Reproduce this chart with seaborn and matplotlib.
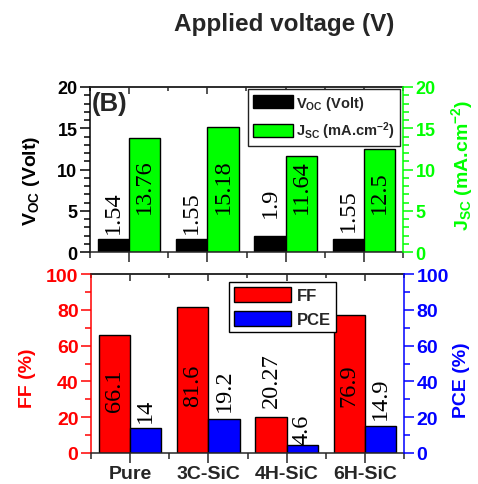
import matplotlib
matplotlib.use("Agg")
import matplotlib.pyplot as plt
import numpy as np
import pandas as pd
import seaborn as sns
from matplotlib.ticker import MultipleLocator, FixedLocator

# ---- data ----
samples = ["Pure", "3C-SiC", "4H-SiC", "6H-SiC"]
voc = [1.54, 1.55, 1.9, 1.55]          # V_OC (Volt)
jsc = [13.76, 15.18, 11.64, 12.5]      # J_SC (mA.cm^-2)
ff = [66.1, 81.6, 20.27, 76.9]         # FF (%)
pce = [14, 19.2, 4.6, 14.9]            # PCE (%)

# ---- where each rotated value label starts (data units) ----
voc_label_y = [2.3, 2.3, 4.2, 2.55]
jsc_label_y = [4.7, 4.7, 4.7, 4.7]
ff_label_y = [23.5, 26.3, 25.7, 26.3]
pce_label_y = [17.3, 23.5, 5.0, 19.0]

GREEN = "#00FF00"
RED = "#FF0000"
BLUE = "#0000FF"

sns.set_style("ticks")
plt.rcParams["font.family"] = ["Liberation Sans", "DejaVu Sans"]
plt.rcParams["font.weight"] = "bold"
plt.rcParams["axes.linewidth"] = 1.1
plt.rcParams["mathtext.default"] = "regular"

voc_lab = r"V$_{\mathregular{OC}}$ (Volt)"
jsc_lab = r"J$_{\mathregular{SC}}$ (mA.cm$^{\mathregular{-2}}$)"

top_df = pd.DataFrame({
    "sample": samples * 2,
    "value": voc + jsc,
    "quantity": [voc_lab] * len(samples) + [jsc_lab] * len(samples),
})
bot_df = pd.DataFrame({
    "sample": samples * 2,
    "value": ff + pce,
    "quantity": ["FF"] * len(samples) + ["PCE"] * len(samples),
})

W, H = 478, 485
fig = plt.figure(figsize=(W / 100, H / 100), dpi=100)
ax_top = fig.add_axes([90 / W, 1 - 253 / H, 313 / W, 165 / H])
ax_bot = fig.add_axes([91 / W, 1 - 454 / H, 313 / W, 179 / H])


def style_panel(ax, left_color, right_color, ymax, major, minor,
                tick_size, show_xlabels):
    ax.set_xlim(-0.5, 3.5)
    ax.set_ylim(0, ymax)
    ax.yaxis.set_major_locator(MultipleLocator(major))
    ax.yaxis.set_minor_locator(MultipleLocator(minor))
    ax.xaxis.set_major_locator(FixedLocator(range(len(samples))))
    ax.xaxis.set_minor_locator(FixedLocator([-0.5, 0.5, 1.5, 2.5, 3.5]))
    ax.set_xlabel("")
    ax.set_ylabel("")
    ax.tick_params(axis="x", which="major", direction="out", length=7,
                   width=1.1, bottom=True, top=False,
                   labelbottom=show_xlabels, labelsize=14, pad=1.5)
    ax.tick_params(axis="x", which="minor", direction="out", length=4,
                   width=1.1, bottom=True, top=False)
    ax.tick_params(axis="y", which="major", direction="out", length=7,
                   width=1.1, colors=left_color, labelsize=tick_size, pad=2)
    ax.tick_params(axis="y", which="minor", direction="out", length=4,
                   width=1.1, colors=left_color)
    ax.spines["left"].set_color(left_color)
    ax.spines["right"].set_visible(False)

    # inward ticks along the top edge
    sec = ax.secondary_xaxis("top")
    sec.xaxis.set_major_locator(FixedLocator(range(len(samples))))
    sec.xaxis.set_minor_locator(FixedLocator([-0.5, 0.5, 1.5, 2.5, 3.5]))
    sec.tick_params(which="major", direction="in", length=5, width=1.1,
                    labeltop=False)
    sec.tick_params(which="minor", direction="in", length=3, width=1.1)

    # right-hand axis with the same scale
    tw = ax.twinx()
    tw.set_ylim(0, ymax)
    tw.yaxis.set_major_locator(MultipleLocator(major))
    tw.yaxis.set_minor_locator(MultipleLocator(minor))
    tw.tick_params(axis="y", which="major", direction="out", length=7,
                   width=1.1, colors=right_color, labelsize=tick_size, pad=2)
    tw.tick_params(axis="y", which="minor", direction="out", length=4,
                   width=1.1, colors=right_color)
    tw.spines["right"].set_color(right_color)
    tw.spines["left"].set_visible(False)
    tw.spines["top"].set_visible(False)
    tw.spines["bottom"].set_visible(False)
    return tw


def add_value_labels(ax, container, values, label_y):
    for bar, v, y in zip(container, values, label_y):
        ax.text(bar.get_x() + bar.get_width() / 2, y, f"{v:g}",
                rotation=90, ha="center", va="bottom",
                fontsize=17.5, fontweight="normal",
                family=["Liberation Serif", "DejaVu Serif"], color="black")


# ---- top panel: V_OC and J_SC ----
sns.barplot(data=top_df, x="sample", y="value", hue="quantity",
            palette=["black", GREEN], edgecolor="black", linewidth=1.0,
            saturation=1, width=0.8, legend=False, ax=ax_top)
tw_top = style_panel(ax_top, "black", GREEN, 20, 5, 1, 13, False)
add_value_labels(ax_top, ax_top.containers[0], voc, voc_label_y)
add_value_labels(ax_top, ax_top.containers[1], jsc, jsc_label_y)
ax_top.legend(ax_top.containers[:2], [voc_lab, jsc_lab],
              loc="upper left", bbox_to_anchor=(0.505, 0.99),
              frameon=True, fancybox=False, framealpha=1,
              edgecolor="#222222", handlelength=2.7, handleheight=0.95,
              labelspacing=0.55, handletextpad=0.25, borderpad=0.35,
              borderaxespad=0.0, prop={"weight": "bold", "size": 10.5})
ax_top.text(0.006, 0.975, "(B)", transform=ax_top.transAxes,
            ha="left", va="top", fontsize=18.5, fontweight="bold")

# ---- bottom panel: FF and PCE ----
sns.barplot(data=bot_df, x="sample", y="value", hue="quantity",
            palette=[RED, BLUE], edgecolor="black", linewidth=1.0,
            saturation=1, width=0.8, legend=False, ax=ax_bot)
tw_bot = style_panel(ax_bot, RED, BLUE, 100, 20, 10, 14, True)
add_value_labels(ax_bot, ax_bot.containers[0], ff, ff_label_y)
add_value_labels(ax_bot, ax_bot.containers[1], pce, pce_label_y)
ax_bot.legend(ax_bot.containers[:2], ["FF", "PCE"],
              loc="upper left", bbox_to_anchor=(0.441, 0.955),
              frameon=True, fancybox=False, framealpha=1,
              edgecolor="black", handlelength=3.4, handleheight=1.0,
              labelspacing=0.45, handletextpad=0.35, borderpad=0.3,
              borderaxespad=0.0, prop={"weight": "bold", "size": 12})

# ---- axis titles ----
fig.text(31 / W, 1 - 181 / H, voc_lab, rotation=90, ha="center",
         va="center", fontsize=14, fontweight="bold", color="black")
fig.text(462 / W, 1 - 165 / H, jsc_lab, rotation=90, ha="center",
         va="center", fontsize=14, fontweight="bold", color=GREEN)
fig.text(28 / W, 1 - 378 / H, "FF (%)", rotation=90, ha="center",
         va="center", fontsize=14, fontweight="bold", color=RED)
fig.text(462 / W, 1 - 380 / H, "PCE (%)", rotation=90, ha="center",
         va="center", fontsize=14, fontweight="bold", color=BLUE)

fig.text(284 / W, 1 - 24 / H, "Applied voltage (V)", ha="center",
         va="center", fontsize=17.5, fontweight="bold")

fig.savefig("out.png", dpi=100)
